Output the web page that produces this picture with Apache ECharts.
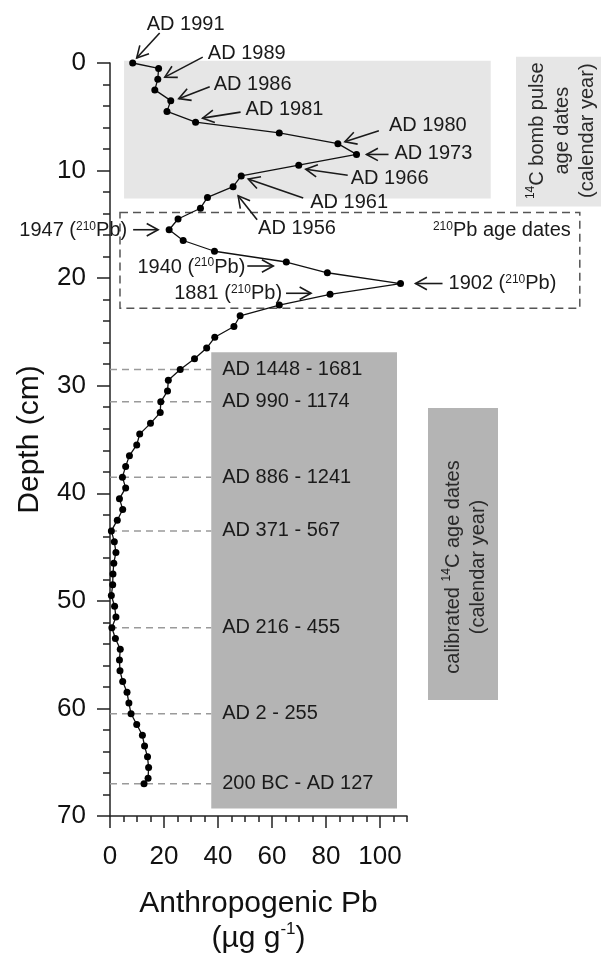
<!DOCTYPE html>
<html>
<head>
<meta charset="utf-8">
<script src="https://cdn.jsdelivr.net/npm/echarts@6/dist/echarts.min.js"></script>
<style>
  html, body { margin: 0; padding: 0; background: #fff; overflow: hidden; }
  #chart { width: 601px; height: 954px; }
</style>
</head>
<body>
<div id="chart"></div>
<script>
// ---- Core data: anthropogenic Pb profile (µg g-1) against depth (cm) ----
const depthCm = [0, 0.5, 1.5, 2.5, 3.5, 4.5, 5.5, 6.5, 7.5, 8.5, 9.5, 10.5, 11.5, 12.5, 13.5, 14.5,
  15.5, 16.5, 17.5, 18.5, 19.5, 20.5, 21.5, 22.5, 23.5, 24.5, 25.5, 26.5, 27.5, 28.5, 29.5, 30.5,
  31.5, 32.5, 33.5, 34.5, 35.5, 36.5, 37.5, 38.5, 39.5, 40.5, 41.5, 42.5, 43.5, 44.5, 45.5, 46.5,
  47.5, 48.5, 49.5, 50.5, 51.5, 52.5, 53.5, 54.5, 55.5, 56.5, 57.5, 58.5, 59.5, 60.5, 61.5, 62.5,
  63.5, 64.5, 65.5, 66.5, 67];
const leadPb = [8.4, 18.0, 17.7, 16.6, 22.5, 21.1, 31.7, 62.7, 84.4, 91.3, 69.9, 48.6, 45.6, 36.1, 33.5, 25.2,
  21.9, 27.1, 38.7, 65.3, 80.5, 107.6, 81.5, 62.7, 48.2, 45.9, 38.8, 35.8, 31.3, 26.0, 21.6, 21.3,
  18.8, 18.6, 15.0, 11.0, 9.9, 7.2, 5.8, 4.6, 5.8, 3.5, 4.7, 2.7, 0.5, 1.6, 2.2, 1.4,
  1.1, 1.0, 0.5, 1.7, 2.2, 0.7, 2.0, 3.8, 3.5, 3.7, 4.7, 6.3, 7.0, 7.8, 9.9, 12.0,
  12.8, 13.9, 14.3, 14.1, 12.6];

// Axis ticks
const xMajorTicks = [0, 20, 40, 60, 80, 100];
const xMinorTicks = [0, 5, 10, 15, 20, 25, 30, 35, 40, 45, 50, 55, 60, 65, 70, 75, 80, 85, 90, 95, 100, 105, 110];

// 14C bomb-pulse ages and the sample depths they refer to
const bombLabels = ['AD 1991', 'AD 1989', 'AD 1986', 'AD 1981', 'AD 1980', 'AD 1973', 'AD 1966', 'AD 1961', 'AD 1956'];
const bombLabelDepths = [0, 1.5, 3.5, 5.5, 7.5, 8.5, 9.5, 10.5, 11.5];

// 210Pb ages and sample depths
const leadLabels = ['1947', '1940', '1902', '1881'];
const leadLabelDepths = [15.5, 18.5, 20.5, 21.5];

// Calibrated 14C ages and sample depths
const c14Labels = ['AD 1448 - 1681', 'AD 990 - 1174', 'AD 886 - 1241', 'AD 371 - 567', 'AD 216 - 455', 'AD 2 - 255', '200 BC - AD 127'];
const c14Depths = [28.5, 31.5, 38.5, 43.5, 52.5, 60.5, 67];

// Depth ranges covered by each dating method
const bombZone = [-0.2, 12.6];
const leadZone = [13.9, 22.8];
const c14Zone = [26.9, 69.3];

// ---- Layout / styling ----
const FONT = '"Liberation Sans", Arial, Helvetica, sans-serif';
const INK = '#1a1a1a';
const AXIS = '#222';

// Callout offsets in px relative to the dated sample: text anchor, arrow tail, arrow tip
const bombCallouts = [
  { t: [14, -39, 'left'], from: [27, -30], to: [4, -5] },
  { t: [50, -26, 'left'], from: [45, -22], to: [7, -2] },
  { t: [43, -16, 'left'], from: [39, -14], to: [8, -2] },
  { t: [50, -13, 'left'], from: [45, -10], to: [7, -4] },
  { t: [51, -18, 'left'], from: [41, -13], to: [7, -2] },
  { t: [38, -1, 'left'], from: [32, 0], to: [10, 0] },
  { t: [52, 13, 'left'], from: [49, 10], to: [7, 4] },
  { t: [69, 27, 'left'], from: [62, 22], to: [7, 3] },
  { t: [25, 42, 'left'], from: [24, 33], to: [5, 9] }
];
const leadCallouts = [
  { t: [-42, 1, 'right'], from: [-36, 0], to: [-11, 0] },
  { t: [-41, 5, 'right'], from: [-39, 4], to: [-13, 4] },
  { t: [48, 0, 'left'], from: [42, 0], to: [15, 0] },
  { t: [-48, -1, 'right'], from: [-44, -1], to: [-19, -1] }
];

const supRich = {
  s: { fontSize: 12, fontFamily: FONT, fill: INK, color: INK, verticalAlign: 'top', lineHeight: 14 }
};

const chart = echarts.init(document.getElementById('chart'), null, { renderer: 'canvas' });

const seriesData = depthCm.map((d, i) => [leadPb[i], d]);

chart.setOption({
  animation: false,
  backgroundColor: '#fff',
  textStyle: { fontFamily: FONT },
  grid: { left: 110, right: 194, top: 63, bottom: 138, containLabel: false, outerBoundsMode: 'none' },
  xAxis: [
    {
      type: 'value', min: 0, max: 110, position: 'bottom',
      axisLine: { show: true, onZero: false, lineStyle: { color: AXIS, width: 1.5 } },
      axisTick: { show: true, length: 12, customValues: xMajorTicks, lineStyle: { color: AXIS, width: 1.5 } },
      axisLabel: { customValues: xMajorTicks, fontSize: 26, color: '#111', margin: 28, fontFamily: FONT },
      splitLine: { show: false },
      name: '{a|Anthropogenic Pb}\n{a|(µg g}{s|-1}{a|)}',
      nameLocation: 'middle',
      nameGap: 70,
      nameTextStyle: {
        color: '#111',
        rich: {
          a: { fontSize: 30, lineHeight: 35, fontFamily: FONT, color: '#111' },
          s: { fontSize: 17, lineHeight: 24, verticalAlign: 'top', fontFamily: FONT, color: '#111' }
        }
      }
    },
    {
      type: 'value', min: 0, max: 110, position: 'bottom',
      axisLine: { show: false, onZero: false },
      axisTick: { show: true, length: 6, customValues: xMinorTicks, lineStyle: { color: AXIS, width: 1.5 } },
      axisLabel: { show: false, customValues: xMinorTicks },
      splitLine: { show: false }
    }
  ],
  yAxis: {
    type: 'value', min: 0, max: 70, interval: 10, inverse: true,
    axisLine: { show: true, onZero: false, lineStyle: { color: AXIS, width: 1.5 } },
    axisTick: { show: true, length: 13, lineStyle: { color: AXIS, width: 1.5 } },
    minorTick: { show: true, splitNumber: 5, length: 7, lineStyle: { color: AXIS, width: 1.5 } },
    axisLabel: { fontSize: 26, color: '#111', margin: 24, fontFamily: FONT },
    splitLine: { show: false },
    minorSplitLine: { show: false },
    name: 'Depth (cm)',
    nameLocation: 'middle',
    nameGap: 65,
    nameTextStyle: { fontSize: 30, color: '#111', fontFamily: FONT }
  },
  series: [{
    type: 'line',
    data: seriesData,
    symbol: 'circle',
    symbolSize: 7,
    z: 5,
    itemStyle: { color: '#000' },
    lineStyle: { color: '#111', width: 1.3 }
  }]
});

// ---- Annotations placed through the chart's own scales ----
const toPx = (pb, d) => chart.convertToPixel({ seriesIndex: 0 }, [pb, d]);
const pointAt = (d) => toPx(leadPb[depthCm.indexOf(d)], d);

const g = [];

function rect(x0, y0, x1, y1, style, z) {
  g.push({ type: 'rect', silent: true, z: z == null ? 0 : z,
    shape: { x: x0, y: y0, width: x1 - x0, height: y1 - y0 }, style });
}
function text(x, y, str, align, extra) {
  g.push(Object.assign({ type: 'text', silent: true, z: 10, x, y,
    style: { text: str, fontSize: 20, fontFamily: FONT, fill: INK, align, verticalAlign: 'middle', rich: supRich } }, extra || {}));
}
function arrow(x1, y1, x2, y2) {
  const ang = Math.atan2(y2 - y1, x2 - x1);
  const L = 13, a = 0.5;
  const stroke = { stroke: INK, lineWidth: 1.6, fill: null };
  g.push({ type: 'polyline', silent: true, z: 10, shape: { points: [[x1, y1], [x2, y2]] }, style: stroke });
  g.push({ type: 'polyline', silent: true, z: 10, shape: { points: [
    [x2 - L * Math.cos(ang - a), y2 - L * Math.sin(ang - a)],
    [x2, y2],
    [x2 - L * Math.cos(ang + a), y2 - L * Math.sin(ang + a)]
  ] }, style: stroke });
}

// 14C bomb-pulse zone
{
  const p0 = toPx(5.2, bombZone[0]);
  const p1 = toPx(141, bombZone[1]);
  rect(p0[0], p0[1], p1[0], p1[1], { fill: '#e6e6e6' });
  // side panel
  rect(516, p0[1] - 4, 601, p1[1] + 8, { fill: '#e6e6e6' });
  g.push({ type: 'text', silent: true, z: 10, x: 562, y: (p0[1] + p1[1]) / 2 + 1, rotation: Math.PI / 2,
    style: { text: '{s|14}C bomb pulse\nage dates\n(calendar year)', fontSize: 20, lineHeight: 25,
      fontFamily: FONT, fill: '#2a2a2a', align: 'center', verticalAlign: 'middle', rich: supRich } });
}

// 210Pb zone (dashed frame)
{
  const p0 = toPx(3.7, leadZone[0]);
  const p1 = toPx(174, leadZone[1]);
  rect(p0[0], p0[1], p1[0], p1[1], { fill: null, stroke: '#555', lineWidth: 1.5, lineDash: [8, 5] }, 1);
  text(p1[0] - 9, p0[1] + 18, '{s|210}Pb age dates', 'right');
}

// calibrated 14C zone
{
  const p0 = toPx(37.5, c14Zone[0]);
  const p1 = toPx(106.3, c14Zone[1]);
  rect(p0[0], p0[1], p1[0], p1[1], { fill: '#b4b4b4' });
  rect(428, 408, 498, 700, { fill: '#b4b4b4' });
  g.push({ type: 'text', silent: true, z: 10, x: 466, y: 567, rotation: Math.PI / 2,
    style: { text: 'calibrated {s|14}C age dates\n(calendar year)', fontSize: 20, lineHeight: 25,
      fontFamily: FONT, fill: '#2a2a2a', align: 'center', verticalAlign: 'middle', rich: supRich } });
  c14Depths.forEach((d, i) => {
    const a = toPx(0, d);
    const b = toPx(37.5, d);
    g.push({ type: 'line', silent: true, z: 1, shape: { x1: a[0], y1: a[1], x2: b[0], y2: b[1] },
      style: { stroke: '#9a9a9a', lineWidth: 1.5, lineDash: [7, 5] } });
    text(b[0] + 11, b[1], c14Labels[i], 'left');
  });
}

// bomb-pulse callouts
bombLabels.forEach((lab, i) => {
  const p = pointAt(bombLabelDepths[i]);
  const c = bombCallouts[i];
  text(p[0] + c.t[0], p[1] + c.t[1], lab, c.t[2]);
  arrow(p[0] + c.from[0], p[1] + c.from[1], p[0] + c.to[0], p[1] + c.to[1]);
});

// 210Pb callouts
leadLabels.forEach((lab, i) => {
  const p = pointAt(leadLabelDepths[i]);
  const c = leadCallouts[i];
  text(p[0] + c.t[0], p[1] + c.t[1], lab + ' ({s|210}Pb)', c.t[2]);
  arrow(p[0] + c.from[0], p[1] + c.from[1], p[0] + c.to[0], p[1] + c.to[1]);
});

chart.setOption({ graphic: { elements: g } });
</script>
</body>
</html>
